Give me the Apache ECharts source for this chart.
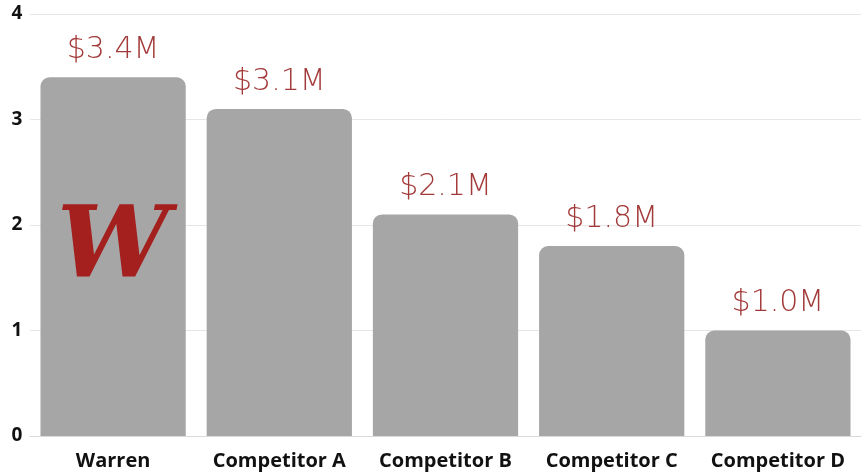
<!DOCTYPE html>
<html><head><meta charset="utf-8">
<script src="https://cdn.jsdelivr.net/npm/echarts@6/dist/echarts.min.js"></script>
<style>html,body{margin:0;padding:0;background:#fff}#c{width:864px;height:476px}</style>
</head><body><div id="c"></div>
<script>
const categories = ['Warren', 'Competitor A', 'Competitor B', 'Competitor C', 'Competitor D'];
const revenue = [3.4, 3.1, 2.1, 1.8, 1.0];
const valueLabels = ['$3.4M', '$3.1M', '$2.1M', '$1.8M', '$1.0M'];
const yTicks = [0, 1, 2, 3, 4];

const chart = echarts.init(document.getElementById('c'));
chart.setOption({
  animation: false,
  grid: { left: 30, right: 3, top: 14, bottom: 40 },
  xAxis: {
    type: 'category', data: categories,
    axisLine: { show: true, lineStyle: { color: '#d9d9d9' } },
    axisTick: { show: false },
    axisLabel: { interval: 0, hideOverlap: false, color: '#111', fontFamily: 'Open Sans', fontWeight: 'bold', fontSize: 20, margin: 15 }
  },
  yAxis: {
    type: 'value', min: yTicks[0], max: yTicks[yTicks.length - 1], interval: 1,
    axisLine: { show: false }, axisTick: { show: false },
    splitLine: { lineStyle: { color: '#e6e6e6' } },
    axisLabel: { color: '#111', fontFamily: 'Open Sans', fontWeight: 'bold', fontSize: 19, margin: 13, align: 'center' }
  },
  series: [{
    type: 'bar', data: revenue, barCategoryGap: '12.6%',
    itemStyle: { color: '#a6a6a6', borderRadius: [9, 9, 0, 0] },
    label: {
      show: true, position: 'top', distance: 12,
      formatter: p => valueLabels[p.dataIndex],
      color: '#a33a3a', fontFamily: 'DejaVu Sans', fontWeight: 200, fontSize: 30
    }
  }]
});
let pt = chart.convertToPixel({ xAxisIndex: 0, yAxisIndex: 0 }, [0, 2]);
if (!pt || isNaN(pt[0])) pt = [113, 224];
chart.setOption({
  graphic: [{
    type: 'text', x: pt[0], y: pt[1] + 26, z: 100,
    style: { text: 'W', fill: '#a3201f', fontFamily: 'DejaVu Serif', fontWeight: 'bold', fontStyle: 'italic', fontSize: 100, align: 'center', verticalAlign: 'middle' }
  }]
});
</script></body></html>
